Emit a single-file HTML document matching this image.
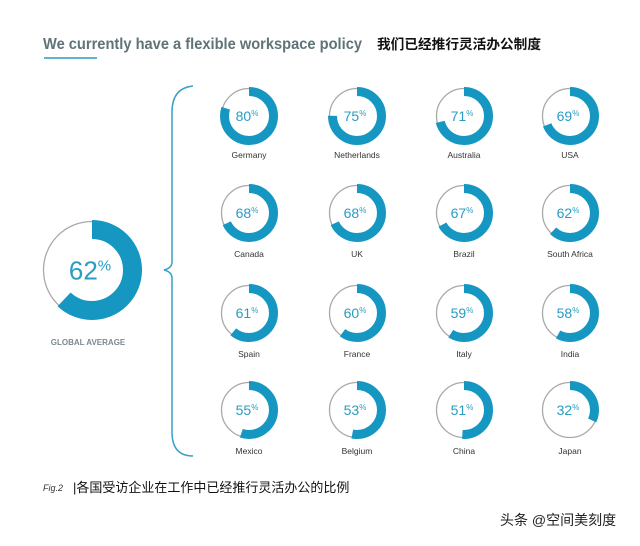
<!DOCTYPE html>
<html><head><meta charset="utf-8"><style>
body{margin:0;background:#fff;width:640px;height:541px;overflow:hidden}
svg text{font-family:"Liberation Sans","Noto Sans CJK SC",sans-serif}
</style></head><body>
<svg id="s" width="640" height="541" viewBox="0 0 640 541" xmlns="http://www.w3.org/2000/svg">
<text x="43" y="49" font-size="15.5" font-weight="bold" fill="#5f7379" textLength="319" lengthAdjust="spacingAndGlyphs">We currently have a flexible workspace policy</text>
<text x="377" y="49" font-size="13.5" font-weight="bold" fill="#111" font-family="Noto Sans CJK SC, sans-serif" textLength="164" lengthAdjust="spacingAndGlyphs">我们已经推行灵活办公制度</text>
<line x1="44" y1="58" x2="97" y2="58" stroke="#2a9cc2" stroke-width="1.5"/>
<path d="M193,86 Q172,88 172,112 L172,262 Q172,268 164,270 Q172,272 172,278 L172,432 Q172,456 193,456" fill="none" stroke="#3aa0c6" stroke-width="1.5"/>
<text x="88" y="345" font-size="8" font-weight="bold" fill="#7c8a8e" text-anchor="middle">GLOBAL AVERAGE</text>
<text x="43" y="491" font-size="9" font-style="italic" fill="#333" font-family="Liberation Serif, serif">Fig.2</text>
<text x="73" y="492" font-size="13" fill="#111">|各国受访企业在工作中已经推行灵活办公的比例</text>
<text x="500" y="525" font-size="14" fill="#222">头条 @空间美刻度</text>
</svg>
<script>
var s=document.getElementById('s'),NS='http://www.w3.org/2000/svg';
function el(t,a,txt){var e=document.createElementNS(NS,t);for(var k in a)e.setAttribute(k,a[k]);if(txt)e.textContent=txt;s.appendChild(e);return e;}
function donut(cx,cy,R,w,p,fs,ps){
 el('circle',{cx:cx,cy:cy,r:R-1.5,fill:'none',stroke:'#a9a9a9','stroke-width':1.3});
 var r=R-w/2,c=2*Math.PI*r;
 el('circle',{cx:cx,cy:cy,r:r,fill:'none',stroke:'#1597c2','stroke-width':w,'stroke-dasharray':(c*p/100)+' '+c,transform:'rotate(-90 '+cx+' '+cy+')'});
 var t=el('text',{x:cx-2,y:cy+fs*0.36,'font-size':fs,fill:'#2a9cc2','text-anchor':'middle'});
 t.textContent=p;var sp=document.createElementNS(NS,'tspan');sp.setAttribute('font-size',ps);sp.setAttribute('dy',-fs*0.35);sp.textContent='%';t.appendChild(sp);
}
donut(92,270,50,19,62,26,15);
var d=[['Germany',80],['Netherlands',75],['Australia',71],['USA',69],['Canada',68],['UK',68],['Brazil',67],['South Africa',62],['Spain',61],['France',60],['Italy',59],['India',58],['Mexico',55],['Belgium',53],['China',51],['Japan',32]];
var xs=[249,357,464,570],ys=[116,213,313,410],ly=[158,257,357,454];
d.forEach(function(v,i){var x=xs[i%4],y=ys[i>>2];donut(x,y,29,9,v[1],14,8);
 el('text',{x:x,y:ly[i>>2],'font-size':8.5,fill:'#333','text-anchor':'middle'},v[0]);});
</script>
</body></html>
